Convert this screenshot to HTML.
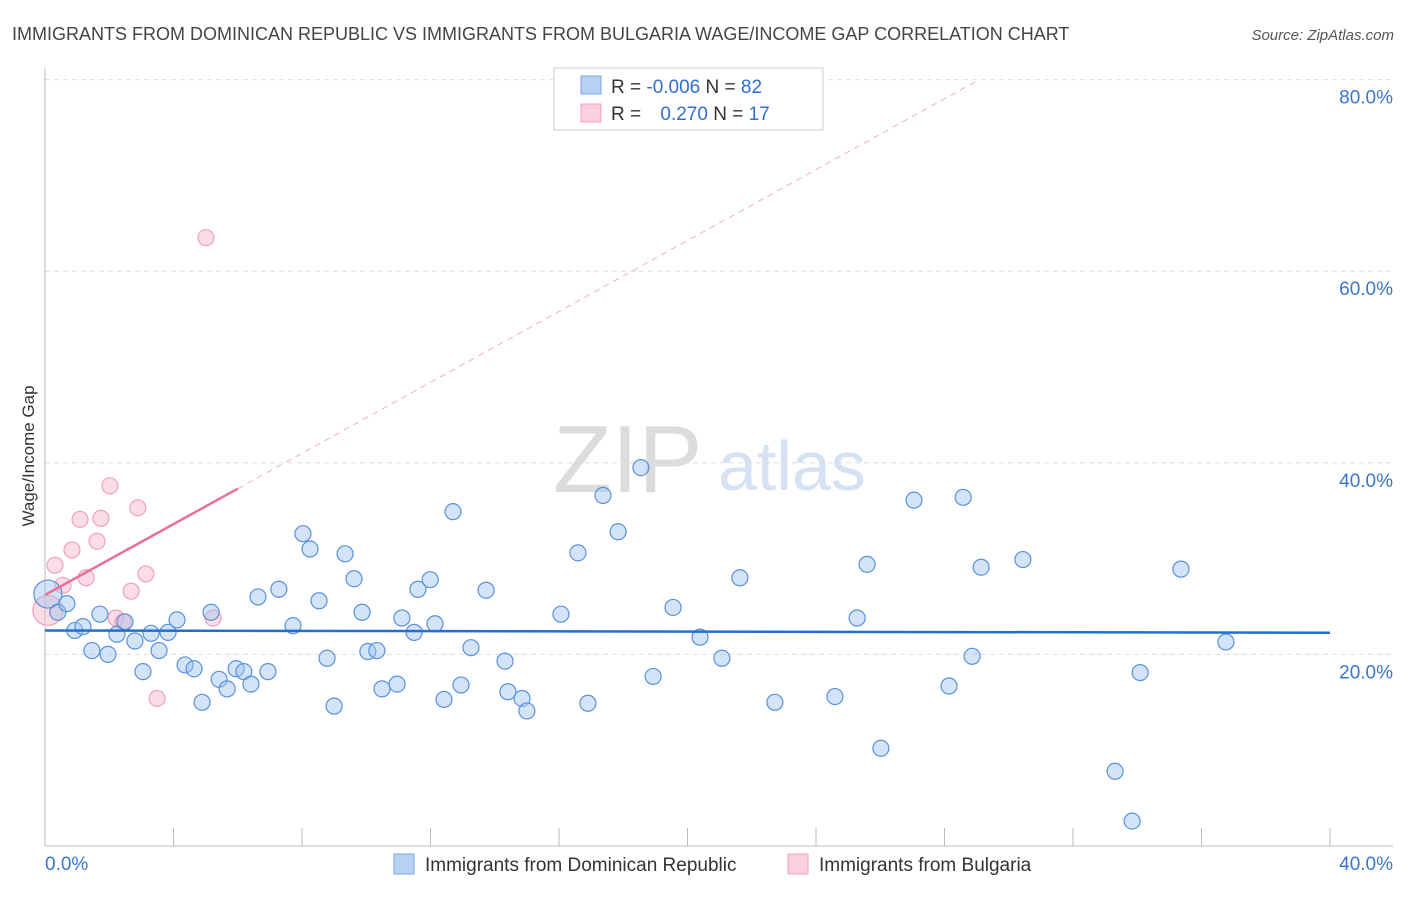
<!DOCTYPE html>
<html><head><meta charset="utf-8"><style>
body{margin:0;background:#fff;font-family:"Liberation Sans",sans-serif}
svg text{font-family:"Liberation Sans",sans-serif}
</style></head><body>
<svg id="chart" width="1406" height="892" xmlns="http://www.w3.org/2000/svg">
<text x="12" y="40" font-size="18" fill="#444">IMMIGRANTS FROM DOMINICAN REPUBLIC VS IMMIGRANTS FROM BULGARIA WAGE/INCOME GAP CORRELATION CHART</text>
<text x="1394" y="40" font-size="15" fill="#555" text-anchor="end" font-style="italic">Source: ZipAtlas.com</text>
<g>
<text x="553" y="492" font-size="96" fill="#dcdcdc" font-family="Liberation Serif,serif">ZIP</text>
<text x="718" y="490" font-size="70" fill="#d4e2f4">atlas</text>
</g>
<g id="grid"></g>
<g id="axes"></g>
<g id="marks"></g>
<text transform="translate(34,456) rotate(-90)" font-size="17" fill="#333" text-anchor="middle">Wage/Income Gap</text>
<g>
<rect x="554" y="68" width="269" height="62" fill="#fff" stroke="#ccc"/>
<rect x="581" y="76" width="20" height="18" fill="#b8d2f4" stroke="#7aa6e0"/>
<rect x="581" y="104" width="20" height="18" fill="#fbd0dc" stroke="#f0a0b8"/>
<text x="611" y="93" font-size="19" fill="#333">R = <tspan fill="#2f6fd0">-0.006</tspan>   N = <tspan fill="#2f6fd0">82</tspan></text>
<text x="611" y="120" font-size="19" fill="#333">R =  <tspan fill="#2f6fd0" dx="14">0.270</tspan>   N =  <tspan fill="#2f6fd0">17</tspan></text>
</g>
<g>
<rect x="394" y="854" width="20" height="20" fill="#b8d2f4" stroke="#7aa6e0"/>
<text x="425" y="871" font-size="19" fill="#333">Immigrants from Dominican Republic</text>
<rect x="788" y="854" width="20" height="20" fill="#fbd0dc" stroke="#f0a0b8"/>
<text x="819" y="871" font-size="19" fill="#333">Immigrants from Bulgaria</text>
</g>
</svg>
<script>
const blueX=[0.09,0.40,0.68,0.93,1.18,1.46,1.71,1.96,2.24,2.49,2.80,3.05,3.30,3.55,3.83,4.11,4.36,4.64,4.89,5.17,5.42,5.67,5.95,6.19,6.41,6.63,6.94,7.28,7.72,8.03,8.25,8.53,8.78,9.00,9.34,9.62,9.87,10.05,10.33,10.49,10.96,11.11,11.49,11.61,11.99,12.14,12.42,12.70,12.95,13.26,13.73,14.32,14.41,14.85,15.00,16.06,16.59,16.90,17.37,17.84,18.55,18.93,19.55,20.39,21.07,21.63,22.72,24.59,25.28,25.59,26.02,27.05,28.14,28.58,28.86,29.14,30.44,33.31,33.84,34.09,35.36,36.76];
const blueY=[26.3,24.4,25.3,22.5,22.9,20.4,24.2,20.0,22.1,23.4,21.4,18.2,22.2,20.4,22.3,23.6,18.9,18.5,15.0,24.4,17.4,16.4,18.5,18.2,16.9,26.0,18.2,26.8,23.0,32.6,31.0,25.6,19.6,14.6,30.5,27.9,24.4,20.3,20.4,16.4,16.9,23.8,22.3,26.8,27.8,23.2,15.3,34.9,16.8,20.7,26.7,19.3,16.1,15.4,14.1,24.2,30.6,14.9,36.6,32.8,39.5,17.7,24.9,21.8,19.6,28.0,15.0,15.6,23.8,29.4,10.2,36.1,16.7,36.4,19.8,29.1,29.9,7.8,2.6,18.1,28.9,21.3];
const pinkX=[0.09,0.31,0.56,0.84,1.09,1.28,1.62,1.74,2.02,2.21,2.43,2.68,2.89,3.14,3.49,5.01,5.23];
const pinkY=[24.6,29.3,27.2,30.9,34.1,28.0,31.8,34.2,37.6,23.8,23.4,26.6,35.3,28.4,15.4,63.5,23.8];
const blueTrend=[22.5,-0.006];
const pinkTrend=[26.2,1.85];
const yTicks=[20,40,60,80];
const xTicks=[0,4,8,12,16,20,24,28,32,36,40];
const NS="http://www.w3.org/2000/svg";
const sx=v=>45+v*32.125, sy=v=>846-v*9.58;
function mk(parent,tag,attrs){const e=document.createElementNS(NS,tag);for(const k in attrs)e.setAttribute(k,attrs[k]);document.getElementById(parent).appendChild(e);return e;}
yTicks.forEach(t=>{
 const l=mk('grid','line',{x1:45,x2:1393,y1:sy(t),y2:sy(t),stroke:'#ddd','stroke-dasharray':'5,4'});
 
 
 const tx=mk('axes','text',{x:1393,y:sy(t)+24,'font-size':19,fill:'#3a75d0','text-anchor':'end'});
 tx.textContent=t.toFixed(1)+'%';
 
 
});
const ya=mk('axes','line',{x1:45,x2:45,y1:68,y2:846,stroke:'#bbb'});


const xa=mk('axes','line',{x1:45,x2:1393,y1:846,y2:846,stroke:'#bbb'});


xTicks.forEach(t=>{
 const l=mk('axes','line',{x1:sx(t),x2:sx(t),y1:828,y2:846,stroke:'#bbb'});
 
 
});
[[0,45,'start'],[40,1393,'end']].forEach(([v,x,a])=>{
 const tx=mk('axes','text',{x:x,y:870,'font-size':19,fill:'#3a75d0','text-anchor':a});
 tx.textContent=v.toFixed(1)+'%';
 
 
});
pinkX.forEach((x,i)=>{
 const c=mk('marks','circle',{cx:sx(x),cy:sy(pinkY[i]),r:i===0?15:8,fill:'rgba(248,180,200,0.45)',stroke:'#f0a0b8','stroke-width':1.2});
 
 
});
blueX.forEach((x,i)=>{
 const c=mk('marks','circle',{cx:sx(x),cy:sy(blueY[i]),r:i===0?14:8,fill:'rgba(160,195,240,0.45)',stroke:'#5a90dc','stroke-width':1.2});
 
 
});
const bl=mk('marks','line',{x1:sx(0),x2:sx(40),y1:sy(blueTrend[0]),y2:sy(blueTrend[0]+blueTrend[1]*40),stroke:'#1f6fd6','stroke-width':2.5});


const pl=mk('marks','line',{x1:sx(0),x2:sx(6),y1:sy(pinkTrend[0]),y2:sy(pinkTrend[0]+pinkTrend[1]*6),stroke:'#e8709a','stroke-width':2.5});


const xe=(80-pinkTrend[0])/pinkTrend[1];
const pd=mk('marks','line',{x1:sx(6),x2:sx(xe),y1:sy(pinkTrend[0]+pinkTrend[1]*6),y2:sy(80),stroke:'#eeb0c4','stroke-width':1,'stroke-dasharray':'6,5'});


</script>
</body></html>
